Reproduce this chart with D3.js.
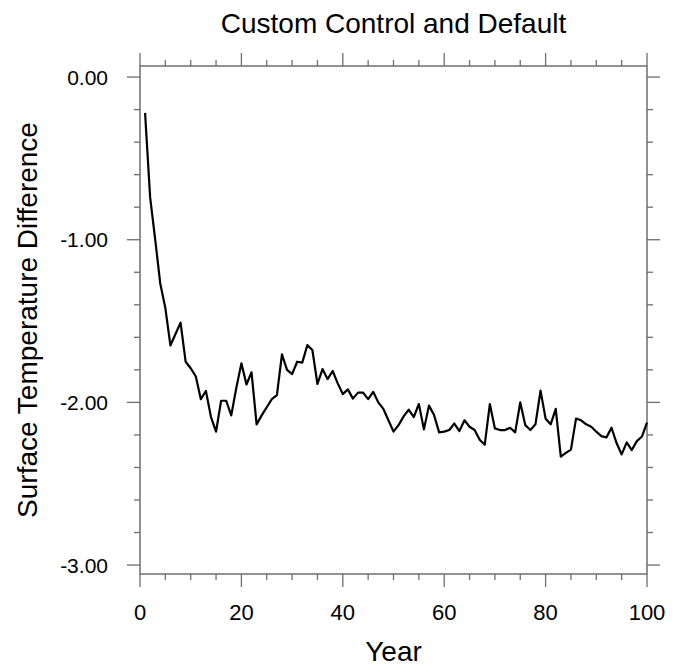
<!DOCTYPE html>
<html>
<head>
<meta charset="utf-8">
<script src="https://cdn.jsdelivr.net/npm/d3@7"></script>
<style>
  html, body { margin: 0; padding: 0; background: #fff; }
  svg { display: block; font-family: "Liberation Sans", Arial, Helvetica, sans-serif; }
</style>
</head>
<body>
<svg id="chart" width="681" height="666"></svg>
<script>
// ---- data ----
const title = "Custom Control and Default";
const xLabel = "Year";
const yLabel = "Surface Temperature Difference";
const years = d3.range(1, 101);
const tempDiff = [
  -0.22, -0.74, -1.00, -1.27, -1.42, -1.65, -1.58, -1.51, -1.75, -1.79,
  -1.84, -1.98, -1.93, -2.09, -2.18, -1.99, -1.99, -2.08, -1.91, -1.76,
  -1.89, -1.815, -2.135, -2.08, -2.03, -1.98, -1.955, -1.705, -1.80, -1.826,
  -1.75, -1.756, -1.648, -1.678, -1.887, -1.795, -1.857, -1.807, -1.883, -1.949,
  -1.92, -1.977, -1.94, -1.94, -1.98, -1.935, -2.00, -2.04, -2.11, -2.18,
  -2.14, -2.086, -2.045, -2.09, -2.01, -2.166, -2.02, -2.078, -2.184, -2.18,
  -2.17, -2.13, -2.176, -2.11, -2.15, -2.17, -2.23, -2.26, -2.01, -2.16,
  -2.17, -2.17, -2.156, -2.184, -2.00, -2.14, -2.17, -2.135, -1.928, -2.10,
  -2.135, -2.04, -2.334, -2.31, -2.29, -2.10, -2.11, -2.135, -2.15, -2.18,
  -2.207, -2.215, -2.156, -2.25, -2.32, -2.246, -2.293, -2.238, -2.21, -2.125
];
const xMajorTicks = [0, 20, 40, 60, 80, 100];
const xMinorTicks = d3.range(0, 101, 5);
const yMajorTicks = [0, -1, -2, -3];
const yTickLabels = ["0.00", "-1.00", "-2.00", "-3.00"];
const yMinorTicks = d3.range(0, 16).map(i => +(-i * 0.2).toFixed(1));

// ---- layout ----
const svg = d3.select("#chart");
const L = 140, R = 647, T = 66, B = 574;
const x = d3.scaleLinear().domain([0, 100]).range([L, R]);
const y = d3.scaleLinear().domain([-3.055, 0.068]).range([B, T]);
const axisColor = "#6e6e6e";
const majorLen = 13, minorLen = 6;

// ticks
const g = svg.append("g").attr("stroke", axisColor).attr("stroke-width", 1.3);
function tickSet(vals, len) {
  vals.forEach(v => {
    const px = x(v);
    g.append("line").attr("x1", px).attr("x2", px).attr("y1", B).attr("y2", B + len);
    g.append("line").attr("x1", px).attr("x2", px).attr("y1", T).attr("y2", T - len);
  });
}
tickSet(xMinorTicks.filter(v => !xMajorTicks.includes(v)), minorLen);
tickSet(xMajorTicks, majorLen);
function yTickSet(vals, len) {
  vals.forEach(v => {
    const py = y(v);
    g.append("line").attr("y1", py).attr("y2", py).attr("x1", L).attr("x2", L - len);
    g.append("line").attr("y1", py).attr("y2", py).attr("x1", R).attr("x2", R + len);
  });
}
yTickSet(yMinorTicks.filter(v => !yMajorTicks.includes(v)), minorLen);
yTickSet(yMajorTicks, majorLen);

// frame
svg.append("rect").attr("x", L).attr("y", T).attr("width", R - L).attr("height", B - T)
  .attr("fill", "none").attr("stroke", axisColor).attr("stroke-width", 1.5);

// tick labels
svg.append("g").selectAll("text").data(xMajorTicks).join("text")
  .attr("x", d => x(d)).attr("y", 620).attr("text-anchor", "middle")
  .attr("font-size", 22).attr("fill", "#000").text(d => d);
svg.append("g").selectAll("text").data(yMajorTicks).join("text")
  .attr("x", 108).attr("y", d => y(d) + 7.5).attr("text-anchor", "end")
  .attr("font-size", 21).attr("fill", "#000").text((d, i) => yTickLabels[i]);

// line
const line = d3.line().x((d, i) => x(years[i])).y(d => y(d));
svg.append("path").datum(tempDiff).attr("d", line)
  .attr("fill", "none").attr("stroke", "#000").attr("stroke-width", 2.2)
  .attr("stroke-linejoin", "round");

// titles
svg.append("text").attr("x", (L + R) / 2).attr("y", 33).attr("text-anchor", "middle")
  .attr("font-size", 28).text(title);
svg.append("text").attr("x", (L + R) / 2).attr("y", 661).attr("text-anchor", "middle")
  .attr("font-size", 28).text(xLabel);
svg.append("text").attr("transform", `translate(37,${(T + B) / 2}) rotate(-90)`)
  .attr("text-anchor", "middle").attr("font-size", 28).text(yLabel);
</script>
</body>
</html>
